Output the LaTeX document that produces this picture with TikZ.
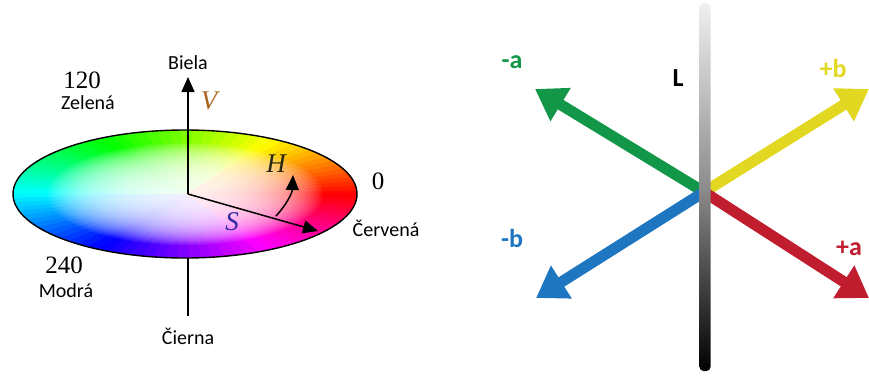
\documentclass[tikz,border=0pt]{standalone}
\usepackage{fontspec}
\setmainfont{Liberation Serif}
\newfontfamily\lblfont{Carlito}
\usetikzlibrary{arrows.meta}
\definecolor{labgreen}{RGB}{18,150,72}
\definecolor{labyellow}{RGB}{226,216,34}
\definecolor{labblue}{RGB}{30,118,192}
\definecolor{labred}{RGB}{192,30,46}
\definecolor{vcol}{RGB}{170,100,30}
\definecolor{hcol}{RGB}{40,40,20}
\definecolor{scol}{RGB}{50,40,160}
\tikzset{
  lbl/.style={font=\lblfont\fontsize{20}{22}\selectfont, inner sep=0pt},
  num/.style={font=\fontsize{25}{28}\selectfont, inner sep=0pt},
  var/.style={font=\fontsize{27}{29}\selectfont\itshape, inner sep=0pt},
  axlbl/.style={font=\lblfont\bfseries\fontsize{26}{28}\selectfont, inner sep=0pt},
  blackarrow/.style={line width=1.5pt, -{Triangle[length=15pt,width=13pt]}},
  labarrow/.style={line width=11pt, -{Triangle[length=30pt,width=37pt]}}
}
\begin{document}
\begin{tikzpicture}[x=1pt,y=-1pt]
\useasboundingbox (0,0) rectangle (869,376);
% ---------- HSV ellipse ----------
\def\cx{185}\def\cy{194}\def\rx{172}\def\ry{64}
\begin{scope}
  \clip (\cx,\cy) ellipse [x radius=\rx, y radius=\ry];
  \foreach \h in {0,4,...,356}{
    \pgfmathsetmacro{\hc}{mod(\h+2,360)}
    \definecolor{huecol}{Hsb}{\hc,1,1}
    \pgfmathsetmacro{\ha}{\h-0.6}
    \pgfmathsetmacro{\hb}{\h+4.6}
    \fill[huecol] (\cx,\cy) -- ({\cx+1.2*\rx*cos(\ha)},{\cy-1.2*\ry*sin(\ha)})
      -- ({\cx+1.2*\rx*cos(\hb)},{\cy-1.2*\ry*sin(\hb)}) -- cycle;
  }
  \foreach \k in {1,...,48}{
    \pgfmathsetmacro{\f}{0.8*\k/48}
    \fill[white, opacity=0.065] (\cx,\cy) ellipse [x radius={\f*\rx}, y radius={\f*\ry}];
  }
\end{scope}
\draw[line width=1.4pt] (\cx,\cy) ellipse [x radius=\rx, y radius=\ry];
\coordinate (ctr) at (188,194);
\coordinate (vtip) at (188,77);
\coordinate (stip) at (318,231);
\coordinate (btop) at (188,258);
\coordinate (bbot) at (188,316);
\coordinate (hstart) at (276,216);
\coordinate (htip) at (293,175);
\draw[blackarrow] (ctr) -- (vtip);
\draw[blackarrow] (ctr) -- (stip);
\draw[line width=1.5pt] (btop) -- (bbot);
\draw[blackarrow] (hstart) to[bend right=20] (htip);
\node[lbl] (biela) at (188,63) {Biela};
\node[lbl] (cierna) at (188,336) {Čierna};
\node[lbl] (cervena) at (386,228) {Červená};
\node[lbl] (zelena) at (88,103) {Zelená};
\node[lbl] (modra) at (66,291) {Modrá};
\node[num] (n120) at (82,80) {120};
\node[num] (n0) at (378,181) {0};
\node[num] (n240) at (64,265) {240};
\node[var, text=vcol] (vlbl) at (209,101) {V};
\node[var, text=hcol] (hlbl) at (276,164) {H};
\node[var, text=scol] (slbl) at (232,222) {S};
% ---------- Lab axes ----------
\coordinate (o) at (704,192);
\coordinate (tma) at (535,89);
\coordinate (tpb) at (869,89);
\coordinate (tmb) at (536,298);
\coordinate (tpa) at (869,298);
\draw[labarrow, labgreen] (o) -- (tma);
\draw[labarrow, labyellow] (o) -- (tpb);
\draw[labarrow, labblue] (o) -- (tmb);
\draw[labarrow, labred] (o) -- (tpa);
\shade[top color=white!94!black, bottom color=black, middle color=black!45, rounded corners=4pt]
  (699.5,3) rectangle (710.5,371);
\node[axlbl, text=labgreen] (ma) at (512,62) {-a};
\node[axlbl, text=black] (L) at (678,78) {L};
\node[axlbl, text=labyellow] (pb) at (833,68) {+b};
\node[axlbl, text=labblue] (mb) at (512,238) {-b};
\node[axlbl, text=labred] (pa) at (849,248) {+a};
\end{tikzpicture}
\end{document}
